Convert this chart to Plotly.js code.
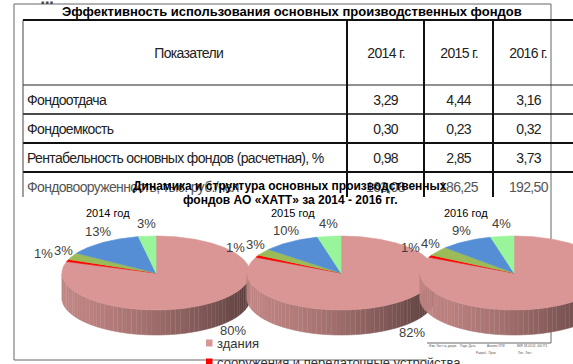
<!DOCTYPE html>
<html><head><meta charset="utf-8">
<script src="https://cdn.plot.ly/plotly-3.0.1.min.js"></script>
<style>html,body{margin:0;padding:0;background:#fff;overflow:hidden}#chart{width:573px;height:364px}</style>
</head><body><div id="chart"></div>
<script>
// ---------- Table data ----------
const tableTitle = "Эффективность использования основных производственных фондов";
const tableHeader = "Показатели";
const tableYears = ["2014 г.", "2015 г.", "2016 г."];
const indicators = ["Фондоотдача", "Фондоемкость", "Рентабельность основных фондов (расчетная), %", "Фондовооруженность, тыс. руб./чел"];
const values2014 = [3.29, 0.30, 0.98, 163.08];
const values2015 = [4.44, 0.23, 2.85, 186.25];
const values2016 = [3.16, 0.32, 3.73, 192.50];

// ---------- Pie data ----------
const pieTitleLines = ["Динамика и структура основных производственных", "фондов АО «ХАТТ» за 2014 - 2016 гг."];
const pieYears = ["2014 год", "2015 год", "2016 год"];
const assetTypes = ["здания", "сооружения и передаточные устройства", "машины и оборудование", "транспортные средства", "прочие"];
const share2014 = [80, 1, 3, 13, 3];
const share2015 = [82, 1, 3, 10, 4];
const share2016 = [82, 1, 4, 9, 4];

// ---------- styles / layout constants ----------
const W = 573, H = 364;
const FONT = 'Liberation Sans, Arial, sans-serif';
const sliceColors = ['#D99694', '#FF0000', '#9BBB59', '#558ED5', '#99F59A'];

const traces = [], shapes = [], annotations = [];
const tightIdx = [];
function txt(t, x, y, font, xanchor, yanchor, tight) {
  if (tight) tightIdx.push(annotations.length);
  annotations.push({text: t, x: x, y: y, xref: 'x', yref: 'y', showarrow: false,
    xanchor: xanchor || 'center', yanchor: yanchor || 'middle', align: xanchor === 'left' ? 'left' : 'center', font: font});
}
function line(x0, y0, x1, y1, w, c) {
  shapes.push({type: 'line', xref: 'x', yref: 'y', x0: x0, y0: y0, x1: x1, y1: y1, layer: 'below', line: {width: w, color: c}});
}
const fmt = v => v.toFixed(2).replace('.', ',');

// ---------- document frame ----------
line(14, 4, 14, 360, 1, '#666');
line(14, 4, 551, 4, 1, '#666');
line(551, 4, 551, 343, 1, '#666');
line(14, 360, 427, 360, 1, '#666');
line(427, 343, 551, 343, 1, '#666');
txt('■ ■ ■', 47, 2, {family: FONT, size: 5, color: '#444'});

// ---------- table ----------
const T = {left: 23, top: 20, headBottom: 85, rowH: 29, cols: [347, 424, 493, 563], clip: 197};
txt('<b>' + tableTitle + '</b>', 292, 11.5, {family: FONT, size: 13, color: '#000'});
line(T.left, T.top, W, T.top, 2, '#111');
line(T.left, T.headBottom, W, T.headBottom, 1, '#222');
for (let i = 1; i < indicators.length; i++) {
  const y = T.headBottom + T.rowH * i;
  line(T.left, y, W, y, i === 1 ? 1.3 : 2, '#111');
}
line(T.left, T.top, T.left, T.clip, 1, '#444');
for (let c = 0; c < 3; c++) line(T.cols[c], T.top, T.cols[c], T.clip, 2, '#111');

const tFont = {family: FONT, size: 14, color: '#222'};
txt(tableHeader, (T.left + T.cols[0]) / 2 + 3, (T.top + T.headBottom) / 2, tFont, 'center', 'middle', true);
const colCenters = [0, 1, 2].map(c => (T.cols[c] + T.cols[c + 1]) / 2);
tableYears.forEach((yr, c) => txt(yr, colCenters[c], (T.top + T.headBottom) / 2, tFont, 'center', 'middle', true));
const colVals = [values2014, values2015, values2016];
indicators.forEach((name, i) => {
  const y = T.headBottom + T.rowH * i + T.rowH / 2;
  const f = i === indicators.length - 1 ? {family: FONT, size: 14, color: '#555'} : tFont;
  txt(name, T.left + 2, y, f, 'left', 'middle', true);
  colVals.forEach((vals, c) => txt(fmt(vals[i]), colCenters[c], y, f, 'center', 'middle', true));
});

// ---------- pie charts ----------
txt('<b>' + pieTitleLines[0] + '</b>', 290, 185.5, {family: FONT, size: 12, color: '#000'});
txt('<b>' + pieTitleLines[1] + '</b>', 290, 199.5, {family: FONT, size: 12, color: '#000'});

const G = {cx: [156, 341, 514], cy: 273, rx: 94, ry: 37, depth: 25};
const rad = d => d * Math.PI / 180;
function hexToRgb(h) { return [1, 3, 5].map(i => parseInt(h.substr(i, 2), 16)); }
function shade(h, f) { const c = hexToRgb(h).map(v => Math.round(Math.min(255, v * f))); return 'rgb(' + c.join(',') + ')'; }

function poly(xs, ys, color) {
  traces.push({type: 'scatter', mode: 'lines', x: xs, y: ys, fill: 'toself', fillcolor: color,
    line: {color: color, width: 0.6}, hoverinfo: 'skip', showlegend: false});
}

[share2014, share2015, share2016].forEach((shares, p) => {
  const cx = G.cx[p], cy = G.cy, rx = G.rx, ry = G.ry, d = G.depth;
  const total = shares.reduce((a, b) => a + b, 0);
  const px = th => cx + rx * Math.sin(rad(th));
  const py = th => cy - ry * Math.cos(rad(th));
  let acc = 0;
  const ranges = shares.map(v => { const a0 = acc / total * 360; acc += v; return [a0, acc / total * 360]; });
  // side (front half only), shaded from light (left) to dark (right)
  ranges.forEach(([a0, a1], k) => {
    const a = Math.max(a0, 90), b = Math.min(a1, 270);
    if (a >= b) return;
    const n = Math.ceil((b - a) / 3);
    for (let s = 0; s < n; s++) {
      const s0 = a + (b - a) * s / n, s1 = a + (b - a) * (s + 1) / n;
      const xs = [], ys = [];
      for (let q = 0; q <= 4; q++) { const th = s0 + (s1 - s0) * q / 4; xs.push(px(th)); ys.push(py(th)); }
      for (let q = 4; q >= 0; q--) { const th = s0 + (s1 - s0) * q / 4; xs.push(px(th)); ys.push(py(th) + d); }
      const mx = px((s0 + s1) / 2);
      const t = Math.max(0, Math.min(1, (mx - (cx - rx)) / (2 * rx)));
      poly(xs, ys, shade(sliceColors[k], 0.88 - 0.46 * Math.pow(t, 1.5)));
    }
  });
  // top face
  ranges.forEach(([a0, a1], k) => {
    const xs = [cx], ys = [cy];
    const n = Math.max(2, Math.ceil(a1 - a0));
    for (let q = 0; q <= n; q++) { const th = a0 + (a1 - a0) * q / n; xs.push(px(th)); ys.push(py(th)); }
    xs.push(cx); ys.push(cy);
    poly(xs, ys, sliceColors[k]);
  });
  txt(pieYears[p], cx - 48, 212.5, {family: FONT, size: 11, color: '#000'});
  // percentage labels (outside end, simple collision avoidance)
  const placed = [];
  for (let k = shares.length - 1; k >= 0; k--) {
    const [a0, a1] = ranges[k];
    const mid = (a0 + a1) / 2, s = Math.sin(rad(mid)), c = Math.cos(rad(mid));
    const label = Math.round(shares[k] / total * 100) + '%';
    const w = 7.2 * (label.length - 1) + 11.6, h = 14;
    let t = 1, x, y;
    const pos = tt => c > 0
      ? [cx + rx * 1.1 * s * tt, cy - ry * 1.35 * c * tt]
      : [cx + rx * 1.4 * s * tt, cy - ry * 1.1 * c * tt + d];
    const hit = (x, y) => placed.some(b => Math.abs(b.x - x) < (b.w + w) / 2 && Math.abs(b.y - y) < (b.h + h) / 2);
    [x, y] = pos(t);
    while (hit(x, y) && t < 2) { t += 0.02; [x, y] = pos(t); }
    placed.push({x: x, y: y, w: w, h: h});
    txt(label, x, y, {family: FONT, size: 13, color: '#404040'});
  }
});

// ---------- legend ----------
assetTypes.forEach((name, i) => {
  const y = 343 + 19 * i;
  shapes.push({type: 'rect', xref: 'x', yref: 'y', x0: 206, x1: 212.5, y0: y - 3.5, y1: y + 3.5,
    fillcolor: sliceColors[i], line: {width: 0}, layer: 'above'});
  txt(name, 215, y, {family: FONT, size: 13, color: '#333'}, 'left');
});

// ---------- stamp block (tiny text) ----------
const stampFont = {family: FONT, size: 3, color: '#555'};
txt('Изм. Лист № докум.', 443, 346, stampFont);
txt('Подп. Дата', 468, 346, stampFont);
txt('Анализ ОПФ', 496, 346, stampFont);
txt('ВКР. 38.03.02. 000 ПЗ', 532, 346, stampFont);
txt('Разраб.  Пров.', 486, 352.5, stampFont);
txt('Лит.  Лист', 525, 352.5, stampFont);

Plotly.newPlot('chart', traces, {
  width: W, height: H, margin: {l: 0, r: 0, t: 0, b: 0, pad: 0},
  paper_bgcolor: '#fff', plot_bgcolor: '#fff', showlegend: false,
  xaxis: {range: [0, W], visible: false, fixedrange: true},
  yaxis: {range: [H, 0], visible: false, fixedrange: true},
  shapes: shapes, annotations: annotations
}, {staticPlot: true, displayModeBar: false}).then(gd => {
  // condensed look of the table font
  tightIdx.forEach(i => {
    const el = gd.querySelector('g.annotation[data-index="' + i + '"] text.annotation-text');
    if (el) el.style.letterSpacing = '-0.65px';
  });
});
</script></body></html>
